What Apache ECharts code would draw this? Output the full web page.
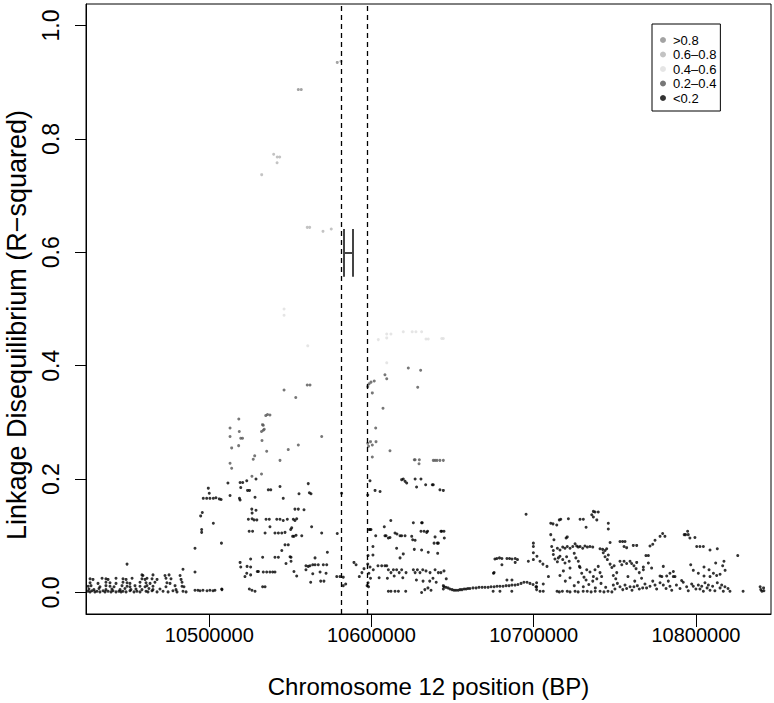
<!DOCTYPE html>
<html>
<head>
<meta charset="utf-8">
<script src="https://cdn.jsdelivr.net/npm/echarts@6/dist/echarts.min.js"></script>
<style>html,body{margin:0;padding:0;background:#fff}#chart{width:774px;height:703px}</style>
</head>
<body>
<div id="chart"></div>
<script>
// ---- data: [position (BP), R-squared] ----
const westBand = [
[10425200,0.002],[10426500,0.001],[10427700,0.003],[10429500,0.001],[10430800,0.002],[10432600,0.001],[10434500,0.003],[10435700,0.001],[10437600,0.002],[10439400,0.001],[10440600,0.003],[10442500,0.001],[10444300,0.002],[10445600,0.001],[10446800,0.002],[10448700,0.001],[10451100,0.003],[10453600,0.001],[10455400,0.002],[10457300,0.001],[10461000,0.002],[10462200,0.001],[10464700,0.003],[10467800,0.001],[10471500,0.002],[10474600,0.001],[10477600,0.003],[10480100,0.001],[10483800,0.002],[10485700,0.001],
[10425800,0.006],[10428900,0.005],[10432000,0.007],[10436300,0.005],[10440000,0.006],[10445000,0.005],[10448000,0.007],[10451700,0.005],[10454800,0.006],[10458500,0.005],[10462800,0.007],[10465300,0.005],[10469600,0.006],[10479500,0.005],
[10425300,0.011],[10427100,0.012],[10432600,0.010],[10436300,0.012],[10438800,0.011],[10441300,0.010],[10446200,0.012],[10449300,0.011],[10451100,0.010],[10454200,0.012],[10457300,0.011],[10460400,0.010],[10461600,0.012],[10465300,0.011],[10473300,0.010],[10478900,0.012],[10483200,0.011],[10484400,0.010],
[10426500,0.017],[10431400,0.016],[10436300,0.018],[10438800,0.017],[10442500,0.016],[10446800,0.018],[10449300,0.017],[10451100,0.016],[10457300,0.018],[10461000,0.017],[10463500,0.016],[10466500,0.018],[10473900,0.017],[10475800,0.016],[10483200,0.018],
[10426500,0.024],[10428300,0.023],[10433900,0.025],[10436300,0.024],[10437600,0.023],[10442500,0.025],[10446800,0.024],[10448700,0.023],[10452400,0.025],[10458500,0.024],[10460400,0.023],[10461600,0.025],[10464700,0.024],[10467800,0.023],[10473300,0.025],[10476400,0.024],[10482600,0.023],
[10458500,0.031],[10459100,0.030],[10465300,0.031],[10472700,0.030],[10475200,0.031],[10482000,0.030],[10483800,0.041],[10449300,0.050],
[10491200,0.004],[10493000,0.004],[10494300,0.003],[10496100,0.004],[10498600,0.003],[10500400,0.004],[10502300,0.003],[10503500,0.004],[10507800,0.005]
];

const risingFlank = [
[10491200,0.078],[10491200,0.036],[10494700,0.135],[10495700,0.141],[10495300,0.111],[10495300,0.106],
[10496300,0.166],[10498400,0.166],[10500400,0.166],[10502500,0.166],[10504100,0.167],[10506200,0.165],[10507300,0.164],
[10499400,0.184],[10500000,0.175],[10502500,0.122],[10507500,0.087],[10507700,0.006],
[10512800,0.290],[10518500,0.284],[10512800,0.275],[10519400,0.272],[10520500,0.272],[10513800,0.255],[10518100,0.259],[10532800,0.296],[10532200,0.284],[10533300,0.286],[10532500,0.268],[10528000,0.241],[10527100,0.235],[10535400,0.249],[10548700,0.252],[10554900,0.260],[10543600,0.233],[10512800,0.228],[10513800,0.219],[10526300,0.205],[10528800,0.200],[10532200,0.209],[10518200,0.306],[10534800,0.312],[10535900,0.314],[10537400,0.313],[10533300,0.295],[10533900,0.288],[10546100,0.357],[10553300,0.344],[10560400,0.366],[10562100,0.366],[10569300,0.275],
[10511500,0.193],[10512800,0.171],[10519000,0.194],[10520600,0.194],[10523100,0.197],[10519400,0.185],[10523600,0.180],[10524800,0.180],[10536400,0.181],[10537900,0.181],[10543600,0.187],[10561000,0.192],[10561700,0.176],[10562700,0.174],[10555300,0.174],[10518600,0.166],[10519000,0.163],[10528200,0.168],[10545600,0.166],[10526200,0.147],[10528800,0.145],[10526400,0.140],[10552800,0.147],[10554900,0.147],[10558400,0.146],
[10524100,0.129],[10526400,0.130],[10527600,0.128],[10529300,0.128],[10535000,0.129],[10537000,0.129],[10541600,0.129],[10543600,0.129],[10545600,0.127],[10548100,0.129],[10551800,0.129],[10552800,0.127],[10553900,0.130],[10537400,0.116],[10550800,0.114],[10563100,0.116],
[10524600,0.108],[10526700,0.108],[10534400,0.105],[10540500,0.105],[10542600,0.105],[10544700,0.105],[10546700,0.106],[10550200,0.111],[10551400,0.099],[10552200,0.099],[10553500,0.101],[10557000,0.100],[10569300,0.105],[10578900,0.104],[10548700,0.084],[10546700,0.084],[10544700,0.074],[10572800,0.071],
[10525500,0.059],[10532900,0.062],[10540500,0.062],[10542600,0.062],[10550400,0.062],[10550400,0.055],[10565200,0.061],[10549800,0.063],[10547300,0.051],[10519000,0.053],[10519400,0.045],[10559600,0.047],[10559600,0.040],[10561000,0.046],[10562100,0.047],[10563800,0.049],[10565200,0.049],[10567200,0.049],[10570300,0.049],[10572400,0.049],
[10525500,0.045],[10529600,0.037],[10530300,0.037],[10533300,0.036],[10535400,0.036],[10537400,0.036],[10539100,0.036],[10540500,0.036],[10552200,0.037],[10553900,0.029],[10563800,0.033],[10568300,0.036],[10572000,0.034],[10522000,0.028],[10523100,0.034],[10525500,0.031],[10523300,0.046],
[10562500,0.018],[10568700,0.020],[10570700,0.020],[10578600,0.028],[10580600,0.028],[10582600,0.027],[10584100,0.015],[10582600,0.012],[10589200,0.053],[10590500,0.049],[10592500,0.028],
[10524700,0.006],[10526300,0.004],[10528200,0.002],[10532900,0.010],[10534400,0.010],[10581600,0.175]
];

const highLD = [
[10539700,0.773],[10541900,0.768],[10543400,0.768],[10541800,0.758],[10532300,0.737],
[10560400,0.644],[10561900,0.644],[10570100,0.637],[10575200,0.641],
[10554900,0.887],[10556700,0.887],[10578900,0.935],[10581200,0.937],
[10546100,0.500],[10546100,0.489],[10560700,0.435],
[10604200,0.446],[10609400,0.456],[10612000,0.456],[10609400,0.449],[10619600,0.460],[10625100,0.460],[10627400,0.460],[10630900,0.460],[10633600,0.447],[10635000,0.447],[10643300,0.448],[10644300,0.448],[10609400,0.405]
];

const eastPeak = [
[10622700,0.396],[10630300,0.392],[10628500,0.362],[10608300,0.384],[10609400,0.377],[10597700,0.363],[10598500,0.368],[10599700,0.371],[10601700,0.373],[10600500,0.352],[10607100,0.325],[10602600,0.290],[10597700,0.263],[10598200,0.258],[10599400,0.266],[10600500,0.260],[10602800,0.266],[10600500,0.239],[10611400,0.250],[10626400,0.234],[10626900,0.234],[10629500,0.234],[10629300,0.227],[10638100,0.233],[10639200,0.233],[10640400,0.233],[10642200,0.233],[10644300,0.233],
[10599100,0.197],[10618600,0.199],[10619600,0.200],[10620700,0.196],[10621700,0.193],[10626900,0.200],[10627800,0.186],[10630500,0.200],[10633400,0.190],[10637500,0.190],[10638100,0.190],[10642200,0.181],[10644300,0.180],[10597700,0.172],[10602200,0.180],[10605300,0.178],
[10611900,0.127],[10607900,0.116],[10598500,0.111],[10599100,0.111],[10599700,0.111],[10625800,0.123],[10630900,0.123],[10631300,0.123],
[10602600,0.100],[10608300,0.100],[10609000,0.100],[10610400,0.096],[10611400,0.097],[10614500,0.105],[10615700,0.103],[10617600,0.100],[10618600,0.100],[10620700,0.100],[10624800,0.099],[10625400,0.093],[10626900,0.092],[10630500,0.108],[10632400,0.108],[10634000,0.106],[10634600,0.108],[10639200,0.098],[10641200,0.087],[10638600,0.087],[10640600,0.087],[10642800,0.108],[10643300,0.108],[10644700,0.108],[10644900,0.096],
[10600900,0.081],[10615500,0.078],[10619600,0.068],[10626400,0.076],[10630900,0.075],[10617600,0.061],[10640800,0.069],[10635000,0.071],[10600900,0.066],[10597900,0.065],
[10597700,0.050],[10599100,0.045],[10601100,0.040],[10604000,0.047],[10606300,0.047],[10608300,0.047],[10609400,0.047],[10610400,0.040],[10612000,0.035],[10613500,0.040],[10615500,0.040],[10617100,0.035],[10618600,0.040],[10621300,0.035],[10625800,0.040],[10626900,0.035],[10628300,0.040],[10629900,0.035],[10631600,0.040],[10633600,0.038],[10636100,0.035],[10639200,0.040],[10641200,0.035],[10642800,0.035],[10644700,0.038],
[10594100,0.035],[10595400,0.042],[10598400,0.034],[10599400,0.025],[10604700,0.026],[10609800,0.025],[10614000,0.029],[10619300,0.026],[10627700,0.022],[10631800,0.020],[10635900,0.020],[10637900,0.025],[10639900,0.018],[10646100,0.024],
[10597900,0.017],[10598200,0.010],[10597300,0.012],[10610400,0.002],[10612000,0.002],[10614500,0.002],[10616600,0.002],[10621100,0.002],[10630900,0.000],[10632900,0.005],[10634800,0.008],[10636700,0.004],[10644300,0.012],[10644300,0.006],[10644700,0.010]
];

const flatRun = [
[10645900,0.009],[10647200,0.008],[10648400,0.006],[10649700,0.005],[10650900,0.004],[10652100,0.004],[10653400,0.004],[10654600,0.005],[10655800,0.005],[10657100,0.006],[10658300,0.006],[10659500,0.007],[10660700,0.007],[10662600,0.008],[10664500,0.008],[10666300,0.009],[10668200,0.009],[10670000,0.009],[10671900,0.009],[10673700,0.010],[10675600,0.010],[10677400,0.011],[10679200,0.011],[10681100,0.011],[10683000,0.012],[10684800,0.012],[10686600,0.013],[10688500,0.013],[10690300,0.014],[10692200,0.016],[10694000,0.018],[10695900,0.018],[10697700,0.016],[10699600,0.014],[10701400,0.010],
[10675000,0.002],[10679200,0.002],[10686500,0.002],[10675600,0.035],[10677300,0.060],[10678900,0.061],[10680400,0.060],[10683500,0.060],[10685100,0.060],[10686600,0.059],[10688600,0.060],[10690000,0.058],[10680400,0.049],[10688600,0.053],[10683500,0.022],[10686600,0.022],[10676100,0.059],[10675200,0.034],[10695300,0.138]
];

const eastTail = [
[10696700,0.055],[10699800,0.058],[10699800,0.087],[10699800,0.081],[10699800,0.070],[10701800,0.017],[10701800,0.010],[10701800,0.005],[10703900,0.002],[10705900,0.002],[10702000,0.064],[10703900,0.055],[10705700,0.050],[10708200,0.046],[10705900,0.015],[10709100,0.028],
[10710500,0.122],[10711900,0.121],[10714200,0.119],[10715800,0.128],[10716700,0.129],[10710500,0.102],[10712500,0.093],
[10711100,0.081],[10712100,0.074],[10714600,0.078],[10716200,0.075],[10717900,0.080],[10719300,0.078],[10720700,0.081],[10722400,0.078],[10724100,0.081],[10725500,0.086],
[10720000,0.096],[10720700,0.098],[10721400,0.130],[10728600,0.129],[10730600,0.129],[10732300,0.115],
[10735800,0.137],[10736800,0.133],[10738900,0.128],[10736800,0.143],[10737800,0.142],[10739800,0.142],[10746000,0.122],[10746000,0.112],
[10726500,0.082],[10727500,0.080],[10728600,0.081],[10730200,0.078],[10731600,0.082],[10733100,0.080],[10734700,0.081],[10736400,0.080],
[10740900,0.077],[10742500,0.076],[10744000,0.074],[10745000,0.077],[10747100,0.088],
[10753200,0.090],[10754800,0.090],[10756300,0.090],[10755700,0.081],[10757300,0.079],[10761400,0.083],[10763500,0.083],
[10771700,0.082],[10773400,0.085],[10774800,0.092],[10777900,0.099],[10779500,0.104],[10780900,0.099],
[10792800,0.102],[10793600,0.102],[10795300,0.102],[10794900,0.108],[10796300,0.096],[10799400,0.097],
[10800500,0.081],[10802500,0.081],[10804600,0.081],[10808700,0.075],[10813200,0.077],[10825800,0.065],
[10796800,0.049],[10798400,0.039],[10801500,0.034],[10805000,0.029],[10808700,0.028],[10810800,0.034],[10812800,0.030],[10814900,0.032],[10816500,0.047],[10818000,0.039],
[10786100,0.037],[10787100,0.028],[10784000,0.034],[10782000,0.029],[10779900,0.046],[10777900,0.029],
[10770700,0.052],[10772700,0.043],[10767600,0.045],[10767600,0.040],[10765100,0.035],[10769200,0.065],[10770700,0.065],
[10759400,0.055],[10760400,0.051],[10761800,0.047],[10763500,0.053],[10763100,0.042],
[10753200,0.055],[10754300,0.049],[10755700,0.055],[10757300,0.051],
[10747100,0.050],[10748200,0.044],[10749600,0.047],[10751200,0.035],[10749100,0.030],
[10742900,0.070],[10744000,0.063],[10745400,0.058],[10746000,0.066],
[10739800,0.046],[10740900,0.035],[10741900,0.028],[10738900,0.024],
[10734700,0.036],[10736800,0.028],[10736400,0.020],[10737800,0.040],
[10728600,0.044],[10729600,0.034],[10731000,0.027],[10732300,0.022],[10732700,0.040],
[10725000,0.069],[10726000,0.061],[10727500,0.055],[10728200,0.046],
[10716200,0.064],[10717900,0.058],[10719300,0.052],[10720300,0.063],[10721900,0.055],[10722400,0.043],[10718300,0.038],
[10712100,0.067],[10713100,0.059],[10714600,0.054],[10715200,0.061],
[10716200,0.030],[10719500,0.020],[10722400,0.026],[10725000,0.012],[10727500,0.018],[10730600,0.010],[10734000,0.014],[10738000,0.008],[10741500,0.016],[10744400,0.009],
[10750600,0.024],[10758100,0.028],[10762300,0.020],[10766500,0.025],
[10714400,0.002],[10715800,0.001],[10717700,0.002],[10720700,0.002],[10722400,0.001],[10725500,0.002],[10727400,0.001],[10730500,0.002],[10733000,0.002],[10735400,0.001],[10737900,0.002],[10740900,0.002],[10743300,0.001],[10745800,0.002],[10748200,0.001],
[10749100,0.013],[10750100,0.006],[10751600,0.016],[10753200,0.010],[10754900,0.005],[10756300,0.013],[10757300,0.007],[10759400,0.010],[10760600,0.004],[10761800,0.010],[10763900,0.012],[10765100,0.006],[10767200,0.008],[10768600,0.015],[10769600,0.008],
[10771700,0.011],[10773400,0.020],[10774800,0.013],[10775800,0.006],[10777900,0.017],[10779000,0.028],[10779900,0.013],[10781600,0.007],[10783000,0.020],[10784000,0.011],[10785100,0.004],[10786100,0.028],
[10788000,0.013],[10790200,0.007],[10791200,0.021],[10792200,0.018],[10794300,0.010],[10795300,0.003],[10797400,0.015],[10798400,0.011],[10800000,0.006],
[10801500,0.013],[10802500,0.006],[10803600,0.011],[10804600,0.002],[10805600,0.017],[10806900,0.008],[10807700,0.013],[10808700,0.004],[10810300,0.011],[10811700,0.003],[10813200,0.017],[10814900,0.008],[10815900,0.013],[10816900,0.002],[10817900,0.010],[10819800,0.007],[10821000,0.002],
[10805000,0.045],[10808100,0.040],[10812200,0.052],[10817300,0.055],
[10829100,0.002],[10839600,0.010],[10840000,0.005],[10840700,0.002],[10841700,0.008],[10841900,0.003]
];

// LD classes (legend labels, lower bounds, colours)
const classNames = ['>0.8', '0.6–0.8', '0.4–0.6', '0.2–0.4', '<0.2'];
const classLower = [0.8, 0.6, 0.4, 0.2, -Infinity];
const classColors = ['#8c8c8c', '#b4b4b4', '#dedede', '#555555', '#000000'];

// axis ticks
const xTicks = [10500000, 10600000, 10700000, 10800000];
const yTicks = [0, 0.2, 0.4, 0.6, 0.8, 1.0];

// candidate region bounds (dashed) and interval marker
const regionBounds = [10581200, 10597100];
const intervalX = [10583100, 10588600];
const intervalY = [0.557, 0.641];
const intervalMid = 0.6;

const allPoints = [].concat(westBand, risingFlank, highLD, eastPeak, flatRun, eastTail);
const groups = classNames.map(() => []);
allPoints.forEach(p => {
  for (let i = 0; i < classLower.length; i++) {
    if (p[1] > classLower[i]) { groups[i].push(p); break; }
  }
});

const FONT = '"Liberation Sans", Arial, Helvetica, sans-serif';
const chart = echarts.init(document.getElementById('chart'), null, {renderer: 'svg'});

const series = classNames.map((n, i) => ({
  name: n, type: 'scatter', data: groups[i], symbol: 'circle', symbolSize: 3,
  itemStyle: {color: classColors[i]}, silent: true, z: 3
}));
series.push({
  type: 'scatter', data: [], silent: true, z: 4,
  markLine: {
    silent: true, symbol: ['none', 'none'], label: {show: false}, animation: false,
    data: [
      {xAxis: regionBounds[0], lineStyle: {type: [5, 4], color: '#000', width: 1.3}},
      {xAxis: regionBounds[1], lineStyle: {type: [5, 4], color: '#000', width: 1.3}},
      [{coord: [intervalX[0], intervalY[0]], lineStyle: {type: 'solid', color: '#444', width: 2}}, {coord: [intervalX[0], intervalY[1]]}],
      [{coord: [intervalX[1], intervalY[0]], lineStyle: {type: 'solid', color: '#444', width: 2}}, {coord: [intervalX[1], intervalY[1]]}],
      [{coord: [intervalX[0], intervalMid], lineStyle: {type: 'solid', color: '#444', width: 2}}, {coord: [intervalX[1], intervalMid]}]
    ]
  }
});

chart.setOption({
  animation: false,
  backgroundColor: '#fff',
  grid: {left: 86, right: 3, top: 4, bottom: 89, containLabel: false, outerBoundsMode: 'none',
         show: true, borderColor: '#000', borderWidth: 1, backgroundColor: 'transparent'},
  legend: {
    data: classNames, orient: 'vertical', left: 652, top: 24,
    borderColor: '#000', borderWidth: 1, padding: [9, 4, 6, 8],
    itemWidth: 6, itemHeight: 6, itemGap: 0.5, icon: 'circle',
    selectedMode: false,
    textStyle: {fontFamily: FONT, fontSize: 13, color: '#000', lineHeight: 14, padding: [0, 0, 0, 2]}
  },
  xAxis: {
    type: 'value', min: 10424000, max: 10846300,
    name: 'Chromosome 12 position (BP)', nameLocation: 'middle', nameGap: 60,
    nameTextStyle: {fontFamily: FONT, fontSize: 24, color: '#000'},
    axisLine: {show: true, onZero: false, lineStyle: {color: '#000', width: 1}}, splitLine: {show: false},
    axisTick: {show: true, customValues: xTicks, length: 13, lineStyle: {color: '#000', width: 1}},
    axisLabel: {customValues: xTicks, margin: 11, fontFamily: FONT, fontSize: 20, color: '#000', formatter: v => String(v)}
  },
  yAxis: {
    type: 'value', min: -0.038, max: 1.038,
    name: 'Linkage Disequilibrium (R−squared)', nameLocation: 'middle', nameGap: 55,
    nameTextStyle: {fontFamily: FONT, fontSize: 27, color: '#000', lineHeight: 28, padding: [0, 32, 0, 0]},
    axisLine: {show: true, onZero: false, lineStyle: {color: '#000', width: 1}}, splitLine: {show: false},
    axisTick: {show: true, customValues: yTicks, length: 11, lineStyle: {color: '#000', width: 1}},
    axisLabel: {customValues: yTicks, rotate: 90, margin: 24, fontFamily: FONT, fontSize: 23, color: '#000', formatter: v => v.toFixed(1)}
  },
  series: series
});
</script>
</body>
</html>
